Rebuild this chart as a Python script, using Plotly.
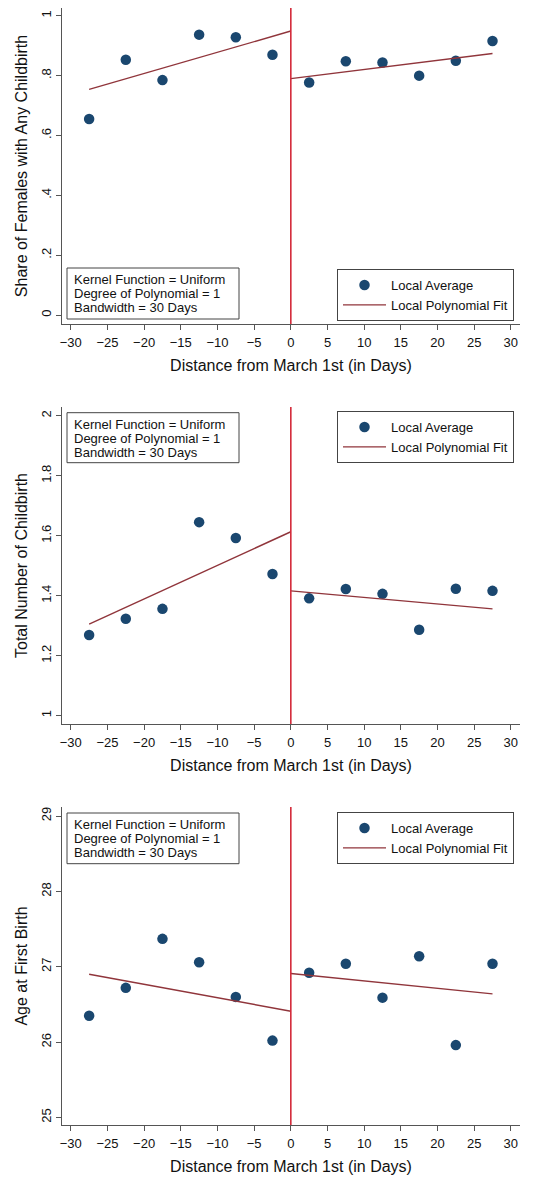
import plotly.graph_objects as go

# ---------------- data ----------------
bins = [-27.5, -22.5, -17.5, -12.5, -7.5, -2.5, 2.5, 7.5, 12.5, 17.5, 22.5, 27.5]
x_tick_vals = [-30, -25, -20, -15, -10, -5, 0, 5, 10, 15, 20, 25, 30]

share_any = [0.655, 0.853, 0.785, 0.937, 0.928, 0.870, 0.777, 0.848, 0.844, 0.800, 0.850, 0.916]
share_fit_left = [0.754, 0.949]
share_fit_right = [0.790, 0.874]

total_num = [1.269, 1.323, 1.356, 1.645, 1.592, 1.472, 1.391, 1.422, 1.406, 1.286, 1.423, 1.416]
total_fit_left = [1.305, 1.613]
total_fit_right = [1.416, 1.356]

age_first = [26.35, 26.72, 27.37, 27.06, 26.60, 26.02, 26.92, 27.04, 26.59, 27.14, 25.96, 27.04]
age_fit_left = [26.90, 26.41]
age_fit_right = [26.91, 26.64]

fit_left_x = [-27.5, 0]
fit_right_x = [0, 27.5]

y_titles = ["Share of Females with Any Childbirth", "Total Number of Childbirth", "Age at First Birth"]
y_tick_vals = [[0, 0.2, 0.4, 0.6, 0.8, 1.0], [1.0, 1.2, 1.4, 1.6, 1.8, 2.0], [25, 26, 27, 28, 29]]
y_tick_text = [["0", ".2", ".4", ".6", ".8", "1"], ["1", "1.2", "1.4", "1.6", "1.8", "2"], ["25", "26", "27", "28", "29"]]
x_title = "Distance from March 1st (in Days)"
box_lines = ["Kernel Function = Uniform", "Degree of Polynomial = 1", "Bandwidth = 30 Days"]
legend_names = ["Local Average", "Local Polynomial Fit"]

# ---------------- layout helpers ----------------
# The page body has an 8px default margin, so the figure is drawn 8px in/down.
OFF = 8
W, H = 536 - OFF, 1179 - OFF
L, R = 62, 520          # plot area, in window pixels
TOP, BOT = 8, 1125
FONT = "Arial, Liberation Sans, sans-serif"
NAVY = "#1a476f"
MAROON = "#90353b"
RED = "#d42a3a"
AXIS = "#555555"


def px_y(p):
    return (BOT - p) / (BOT - TOP)


def px_x(p):
    return (p - L) / (R - L)


panels = [
    dict(vals=share_any, fl=share_fit_left, fr=share_fit_right, top=8, bottom=324,
         yr=[-0.030, 1.026], box_top=268, box_bot=319, leg=("bottom", 321)),
    dict(vals=total_num, fl=total_fit_left, fr=total_fit_right, top=407, bottom=724,
         yr=[0.972, 2.029], box_top=412.7, box_bot=462.7, leg=("top", 411)),
    dict(vals=age_first, fl=age_fit_left, fr=age_fit_right, top=807, bottom=1125,
         yr=[24.90, 29.12], box_top=813, box_bot=863.7, leg=("top", 812)),
]

fig = go.Figure()
shapes = []
annotations = []
layout = {}

for i, p in enumerate(panels):
    n = i + 1
    xa = "x" if n == 1 else f"x{n}"
    ya = "y" if n == 1 else f"y{n}"
    leg = "legend" if n == 1 else f"legend{n}"

    fig.add_trace(go.Scatter(
        x=bins, y=p["vals"], mode="markers", name=legend_names[0],
        marker=dict(color=NAVY, size=10.5, line=dict(width=0)),
        xaxis=xa, yaxis=ya, legend=leg, showlegend=True, hoverinfo="skip"))
    fig.add_trace(go.Scatter(
        x=fit_left_x, y=p["fl"], mode="lines", name=legend_names[1],
        line=dict(color=MAROON, width=1.4),
        xaxis=xa, yaxis=ya, legend=leg, showlegend=True, hoverinfo="skip"))
    fig.add_trace(go.Scatter(
        x=fit_right_x, y=p["fr"], mode="lines", name=legend_names[1],
        line=dict(color=MAROON, width=1.4),
        xaxis=xa, yaxis=ya, legend=leg, showlegend=False, hoverinfo="skip"))

    dom = [px_y(p["bottom"]), px_y(p["top"])]
    xkey = "xaxis" if n == 1 else f"xaxis{n}"
    ykey = "yaxis" if n == 1 else f"yaxis{n}"
    layout[xkey] = dict(
        domain=[0, 1], anchor=ya, range=[-31.2, 31.25], automargin=False,
        tickvals=x_tick_vals, ticks="outside", ticklen=5, tickwidth=1, tickcolor=AXIS,
        showline=True, linecolor=AXIS, linewidth=1, showgrid=False, zeroline=False,
        tickfont=dict(family=FONT, size=13, color="#111"), ticklabelstandoff=1,
        title=dict(text=x_title, font=dict(family=FONT, size=16, color="#111"), standoff=11))
    layout[ykey] = dict(
        domain=dom, anchor=xa, range=p["yr"], automargin=False,
        tickvals=y_tick_vals[i], ticktext=y_tick_text[i], tickangle=-90,
        ticks="outside", ticklen=5, tickwidth=1, tickcolor=AXIS,
        showline=True, linecolor=AXIS, linewidth=1, showgrid=False, zeroline=False,
        tickfont=dict(family=FONT, size=13, color="#111"), ticklabelstandoff=0,
        title=dict(text=y_titles[i], font=dict(family=FONT, size=16, color="#111"), standoff=7))

    # cutoff line at x = 0
    shapes.append(dict(type="line", xref=xa, yref=f"{ya} domain", x0=0, x1=0, y0=0, y1=1,
                       line=dict(color=RED, width=1.6), layer="above"))

    # info box
    shapes.append(dict(type="rect", xref="paper", yref="paper",
                       x0=px_x(67), x1=px_x(239), y0=px_y(p["box_bot"]), y1=px_y(p["box_top"]),
                       line=dict(color="#444", width=1), fillcolor="white", layer="above"))
    for k, t in enumerate(box_lines):
        annotations.append(dict(
            text=t, xref="paper", yref="paper", x=px_x(72), y=px_y(p["box_top"] + 11.5 + 14 * k),
            xanchor="left", yanchor="middle", showarrow=False,
            font=dict(family=FONT, size=13, color="#111")))

    anchor, ypix = p["leg"]
    layout[leg] = dict(
        x=px_x(514), xanchor="right", y=px_y(ypix), yanchor=anchor,
        xref="paper", yref="paper",
        bordercolor="#444", borderwidth=1, bgcolor="white",
        font=dict(family=FONT, size=13, color="#111"),
        tracegroupgap=0, itemwidth=43, entrywidth=151)

fig.update_layout(
    width=W, height=H,
    margin=dict(l=L - OFF, r=W - (R - OFF), t=TOP - OFF, b=H - (BOT - OFF), autoexpand=False),
    paper_bgcolor="white", plot_bgcolor="white",
    shapes=shapes, annotations=annotations,
    font=dict(family=FONT, color="#111"),
    **layout)

fig.write_html("out.html")
